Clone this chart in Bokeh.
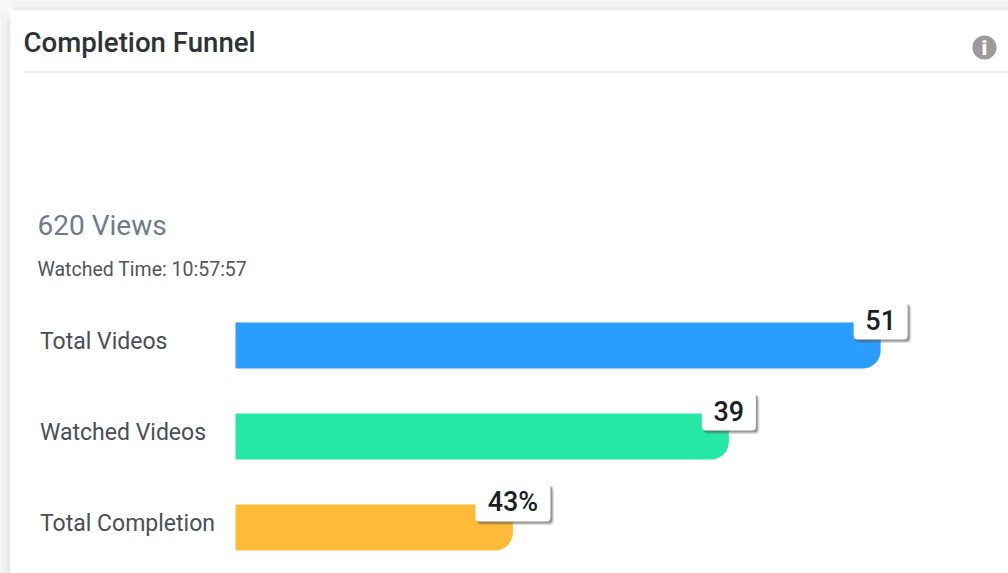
from bokeh.plotting import figure
from bokeh.models import ColumnDataSource, Label, BoxAnnotation
from bokeh.core.properties import value
from bokeh.embed import file_html
from bokeh.resources import INLINE

categories = ["Total Videos", "Watched Videos", "Total Completion"]
bar_values = [51, 39, 0.43 * 51]
badge_labels = ["51", "39", "43%"]
badge_widths = [54, 54, 75]
colors = ["#2a9dff", "#26e8a6", "#ffbb38"]
title = "Completion Funnel"
views = "620 Views"
watched = "Watched Time: 10:57:57"

W, H = 1008, 573
PX_X = 12.65      # px per value unit
PX_Y = 91.0       # px per row
X0 = 235
Y0 = 345
BAR_H = 46 / PX_Y
BADGE_UP = 1.5 / PX_Y

rows = list(range(len(categories)))
tops = [r - BAR_H / 2 - BADGE_UP for r in rows]

p = figure(width=W, height=H, output_backend="svg", toolbar_location=None,
           x_range=(-X0 / PX_X, (W - X0) / PX_X),
           y_range=((H - Y0) / PX_Y, -Y0 / PX_Y),
           min_border=0, outline_line_color=None,
           background_fill_color="#f2f2f2", border_fill_color="#f2f2f2")
p.axis.visible = False
p.grid.visible = False


def box(left, right, top, bottom, color):
    p.add_layout(BoxAnnotation(left=left, right=right, top=H - top, bottom=H - bottom,
                               left_units="screen", right_units="screen",
                               top_units="screen", bottom_units="screen",
                               fill_color=color, fill_alpha=1, line_color=None, level="underlay"))


box(0, 1008, 0, 7, "#f4f4f4")
box(6, 1008, 7, 10, "#ececec")
box(6, 10, 20, 573, "#e9e9e9")
box(0, 12, 0, 12, "#f9f9f9")
box(10, 1008, 10, 573, "#ffffff")
box(23, 1008, 71, 72, "#e2e2e2")

src = ColumnDataSource(dict(y=rows, right=bar_values, left=[0] * 3, color=colors, cat=categories))
p.hbar(y="y", left="left", right="right", height=BAR_H, fill_color="color", line_color=None,
       border_radius=(0, 18, 18, 0), source=src)

p.text(x="left", y="y", text="cat", source=src, x_offset=-195.5, y_offset=-4, text_align="left",
       text_baseline="middle", text_font=value("Roboto"), text_font_size="23px", text_color="#4a4f55")

# badge shadows then badges
for off, alpha, grow in [(2.5, 0.22, 2), (2, 0.5, 0)]:
    p.rect(x=[v + off / PX_X for v in bar_values], y=[t + off / PX_Y for t in tops],
           width=[w + grow for w in badge_widths], height=37 + grow,
           width_units="screen", height_units="screen",
           fill_color="#555555", fill_alpha=alpha, line_color=None, border_radius=4)
p.rect(x=bar_values, y=tops, width=badge_widths, height=37, width_units="screen", height_units="screen",
       fill_color="#ffffff", line_color=None, border_radius=4)
p.text(x=bar_values, y=tops, text=badge_labels, text_align="center", text_baseline="middle", y_offset=-1,
       text_font=value("Roboto Medium"), text_font_size="27px", text_color="#1b1f25")


def lab(x, y, text, size, color, font="Roboto", align="left"):
    p.add_layout(Label(x=x, y=H - y, x_units="screen", y_units="screen", text=text,
                       text_font=font, text_font_size=size, text_color=color,
                       text_align=align, text_baseline="middle"))


lab(23, 42, title, "27.6px", "#2e3338", "Roboto Medium")
lab(37, 225, views, "28px", "#6c7c8c")
lab(37, 269, watched, "19.5px", "#50555a")

# info icon
p.circle(x=[(984 - X0) / PX_X], y=[(47 - Y0) / PX_Y], radius=12, radius_units="screen",
         fill_color="#9b9b9b", line_color=None)
lab(984, 47, "i", "21px", "#ffffff", "Roboto Black", "center")

open("out.html", "w").write(file_html(p, INLINE))
